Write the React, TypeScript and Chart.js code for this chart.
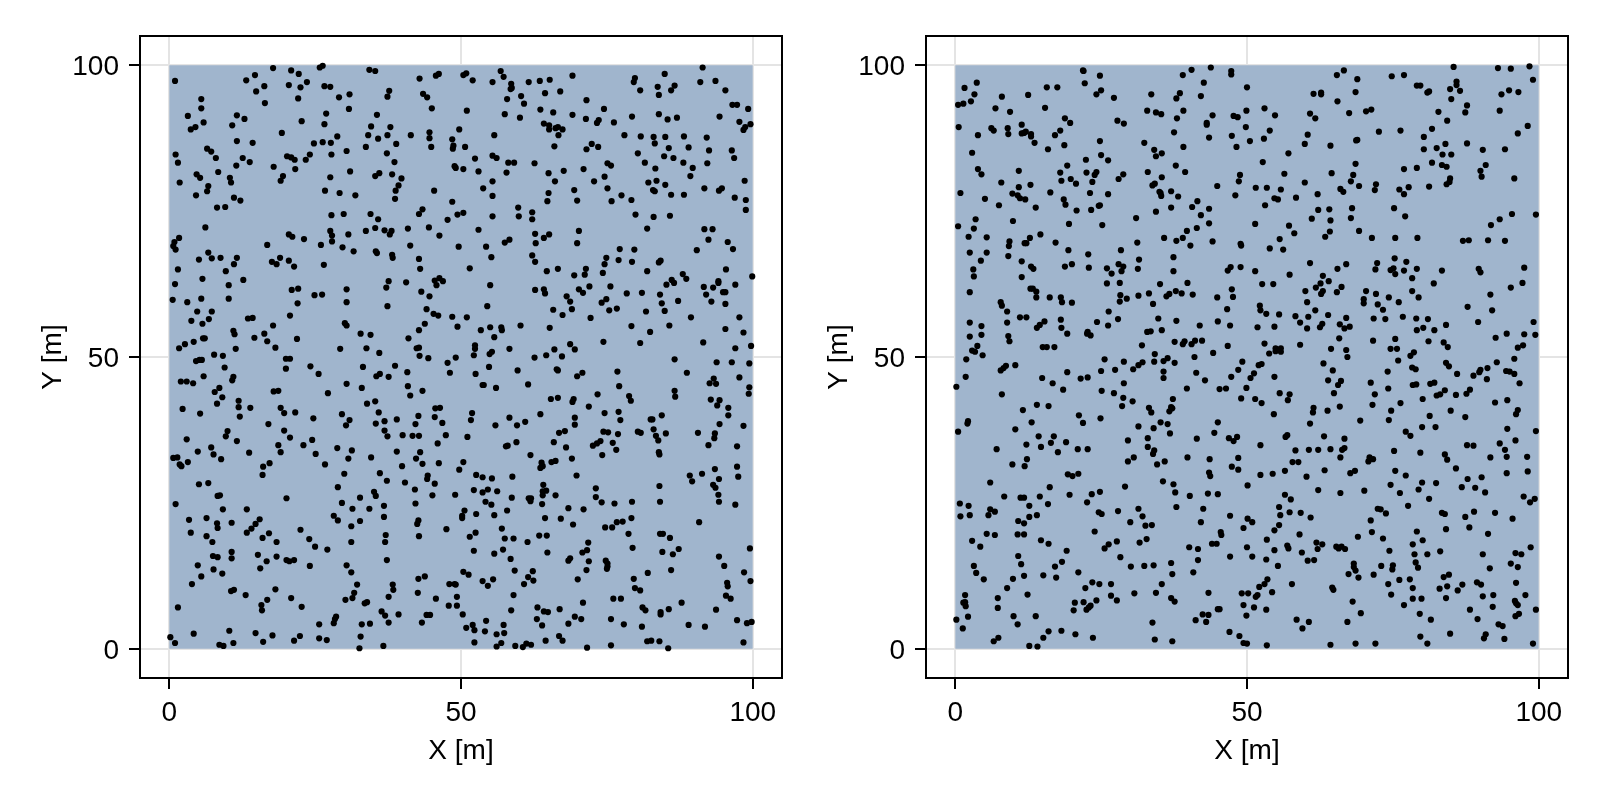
import React, { useEffect, useRef } from 'react';
import Chart from 'chart.js/auto';

const tickValues = [0, 50, 100];
// top edge of the 100 x 100 m domain, filled down to y = 0
const regionTop = [{ x: 0, y: 100 }, { x: 100, y: 100 }];

// point positions, [x, y] in metres
const leftPoints = [
  [1.0,97.3],[13.2,97.4],[14.7,98.3],[17.8,99.5],[20.9,99.1],[22.2,98.5],[25.8,99.6],[26.3,99.9],[34.3,99.2],[35.3,99.0],[42.9,97.7],[45.7,98.2],[46.2,98.5],
  [14.9,95.5],[16.3,96.4],[20.5,96.6],[22.5,96.2],[23.6,97.1],[26.6,96.4],[27.6,96.3],[37.7,95.6],[37.4,94.6],[43.5,95.1],[44.2,94.5],[29.1,94.5],[30.9,95.0],[22.1,94.3],
  [5.5,94.2],[5.5,92.6],[16.4,93.5],[30.8,92.5],[45.0,92.6],
  [3.2,91.3],[11.6,91.4],[12.9,90.8],[26.9,91.7],[35.6,91.5],[5.9,90.2],[10.8,89.7],[22.7,90.4],[26.6,89.9],[3.7,89.0],[4.5,89.4],[34.6,89.5],[37.9,89.4],
  [19.3,88.4],[44.6,88.5],[44.6,87.5],[34.1,88.0],[37.4,88.0],[41.4,88.0],[35.8,87.4],[28.8,87.8],[11.6,87.0],[14.3,86.7],[24.8,86.6],[26.3,86.8],[27.7,86.7],[38.9,86.5],[44.9,86.0],[33.7,86.0],[30.4,85.3],
  [1.1,84.7],[1.5,83.3],[6.5,85.7],[7.2,85.2],[8.0,84.1],[12.6,84.1],[13.8,83.4],[11.5,82.8],[20.2,84.4],[20.9,84.2],[21.5,83.8],[24.1,84.7],[23.4,83.8],[27.8,84.7],[37.3,84.9],[38.6,83.4],[17.9,82.6],[21.6,82.2],
  [8.4,81.7],[4.7,81.3],[5.3,80.7],[1.8,79.9],[10.4,80.7],[10.6,79.9],[19.5,81.0],[19.1,80.2],[27.6,80.8],[31.0,81.8],[35.3,81.0],[36.0,81.5],[38.2,81.3],[39.8,80.6],
  [6.7,79.3],[6.5,78.4],[4.6,77.7],[11.1,77.3],[12.2,76.8],[26.7,78.5],[29.2,78.1],[31.9,77.7],[39.3,79.4],[38.8,78.5],[38.7,77.1],[45.4,78.5],
  [8.2,75.6],[9.6,75.7],[27.8,74.3],[29.9,74.5],[34.5,74.5],[35.8,73.6],[42.8,74.5],[43.4,75.3],[47.7,73.5],
  [6.2,72.2],[1.7,70.4],[0.9,69.7],[0.7,69.0],[1.1,68.4],[20.5,71.0],[21.1,70.6],[23.1,70.2],[27.6,71.6],[27.9,70.8],[27.9,69.8],[30.7,71.0],[33.7,71.6],[35.3,72.1],[36.9,71.7],[38.1,71.6],[37.8,71.0],[40.9,72.0],[44.5,72.2],[46.3,70.8],[16.8,69.2],[26.0,69.2],[29.7,68.8],[31.6,68.1],[41.3,69.1],
  [6.7,67.9],[5.1,66.7],[7.3,66.9],[8.8,67.0],[11.6,67.0],[11.1,65.9],[17.6,66.3],[18.4,65.9],[19.0,67.0],[20.5,66.5],[21.4,65.5],[26.5,65.8],[35.4,68.1],[35.6,67.8],[38.2,67.5],[38.3,67.0],[42.8,66.8],[43.0,65.1],
  [1.5,65.0],[9.7,64.7],[5.7,63.4],[12.7,63.2],[1.0,62.5],[10.2,62.3],[37.6,63.0],[40.6,62.8],[37.2,61.9],[45.5,63.1],[46.3,63.5],[46.9,63.0],[45.8,62.3],
  [21.0,61.5],[22.1,61.7],[30.4,61.6],[24.9,60.6],[26.2,60.7],[43.2,61.2],[44.6,60.4],[0.6,59.8],[3.1,59.4],[5.5,60.0],[10.2,60.0],[30.4,59.4],[22.0,59.2],[37.4,58.7],
  [4.8,57.8],[7.3,57.8],[3.8,56.2],[6.8,56.5],[5.7,55.7],[13.5,56.6],[14.3,56.7],[20.7,57.1],[44.1,58.2],[45.3,57.4],[46.1,57.1],[17.8,55.4],[30.1,55.8],[30.4,55.4],[43.8,55.7],
  [11.0,54.5],[11.2,53.9],[16.3,54.0],[14.6,53.3],[16.8,52.7],[5.8,53.2],[6.1,53.2],[4.2,52.6],[2.7,52.2],[21.9,53.1],[32.8,54.0],[34.5,53.8],[41.0,53.2],[42.8,54.6],[1.7,51.5],[11.4,51.4],[18.2,51.6],[29.3,51.4],[33.8,51.5],[42.4,51.5],[42.8,51.6],

  [50.4,98.3],[50.9,98.6],[52.0,97.4],[55.4,97.1],[56.8,99.0],[57.3,98.0],[58.6,96.8],[61.6,97.1],[63.5,97.3],[65.2,97.5],[69.1,98.2],[58.5,95.9],[58.7,96.1],
  [57.9,94.2],[60.3,94.7],[60.8,93.4],[64.4,95.2],[67.0,95.5],[71.5,94.0],[51.0,92.2],[57.5,91.6],[60.1,91.0],[63.6,92.4],[65.8,91.9],[69.1,91.5],[71.4,90.8],[74.5,92.5],[73.6,90.6],[73.3,90.1],[76.2,90.2],[79.3,91.2],
  [79.8,97.8],[79.6,97.1],[80.7,95.7],[84.9,98.5],[83.7,96.3],[83.9,94.9],[86.6,96.5],[86.0,95.7],[91.4,99.6],[91.0,97.1],[93.6,97.3],[95.3,95.7],[96.5,93.2],[97.3,93.2],[99.2,92.5],[94.3,91.2],[97.7,90.3],[99.6,89.9],[98.7,89.4],[98.4,88.9],[83.9,91.6],[85.4,90.7],[87.0,91.0],
  [49.7,89.0],[55.7,88.0],[64.2,90.0],[65.1,89.7],[65.1,89.0],[66.2,89.2],[66.6,89.4],[67.4,89.0],[66.7,88.0],[48.5,87.3],[66.0,86.1],[78.0,88.0],[80.8,87.8],[83.0,87.7],[85.0,87.7],[88.2,87.8],[92.1,87.6],[83.2,86.6],[72.4,86.5],[73.5,86.0],[71.5,85.6],[85.6,85.8],[89.0,85.9],[92.5,85.4],[96.4,85.4],[96.8,84.1],[48.7,86.2],[48.6,85.7],[50.7,86.0],
  [55.4,84.5],[56.1,84.1],[52.4,84.0],[58.1,83.3],[59.1,83.3],[62.6,83.2],[80.3,84.9],[84.8,84.4],[86.4,84.1],[81.5,83.3],[88.1,83.3],[92.2,83.2],[75.1,83.2],[75.7,82.8],[48.9,82.7],[49.1,82.4],[50.4,82.2],[53.0,81.8],[57.8,81.6],[65.0,81.5],[67.6,81.9],[71.0,82.2],[83.3,82.3],[89.7,82.4],[89.3,81.0],[74.6,80.9],
  [55.4,80.1],[66.1,80.1],[72.8,80.1],[82.1,79.9],[83.5,80.2],[85.0,79.5],[98.6,80.2],[53.8,78.9],[55.4,77.6],[69.4,78.6],[75.1,78.9],[65.0,78.1],[82.9,78.6],[83.2,78.4],[86.0,77.8],[88.2,77.8],[91.7,78.9],[94.2,78.5],[94.7,78.9],[77.5,77.7],[96.9,77.3],[98.8,76.9],[48.5,76.6],[64.8,76.7],[69.9,76.8],[75.8,76.7],[79.2,76.9],
  [59.8,75.6],[62.2,74.8],[59.9,74.1],[62.2,73.6],[49.4,74.4],[50.4,74.7],[55.4,74.1],[79.9,74.4],[83.0,74.0],[85.8,74.2],[98.8,75.2],[53.0,71.8],[81.9,72.0],[91.7,71.9],[93.1,71.9],[70.2,71.6],[62.7,71.1],[65.1,71.0],[64.2,70.4],[58.3,70.1],[57.5,69.6],[62.8,69.5],[69.9,69.5],[92.4,70.1],[95.7,69.7],
  [49.6,68.9],[54.3,68.9],[55.2,67.1],[62.2,67.4],[62.7,66.3],[77.2,68.5],[79.7,68.4],[96.6,68.5],[90.4,68.3],[74.9,67.0],[74.6,65.9],[77.0,66.6],[79.3,66.3],[83.9,66.2],[84.2,66.5],[51.5,65.2],[64.7,64.7],[66.6,65.1],[71.4,65.1],[71.2,64.1],[69.4,64.0],[74.3,64.4],[81.9,64.7],[88.0,64.2],[88.6,63.4],[95.4,65.0],[99.9,63.8],
  [55.0,62.3],[62.7,61.5],[64.2,61.6],[64.4,60.9],[70.2,61.6],[70.9,61.0],[72.0,62.1],[75.6,62.1],[68.1,60.4],[68.7,59.5],[74.9,59.9],[74.1,59.3],[78.4,60.9],[81.0,61.0],[84.1,60.7],[85.2,62.4],[86.1,63.2],[86.5,62.7],[91.6,62.0],[93.2,61.9],[94.1,63.0],[94.1,62.7],[97.0,62.4],[92.0,60.7],[94.9,61.1],[95.3,61.1],[92.9,59.5],[95.3,59.1],[87.2,59.6],[84.4,59.2],
  [54.5,58.7],[65.8,58.1],[69.0,58.2],[67.4,57.2],[75.4,58.0],[76.7,58.3],[81.7,57.8],[84.9,57.9],[48.5,56.9],[51.0,56.8],[49.4,55.2],[72.2,56.7],[89.4,56.8],[97.7,56.8],
  [55.0,55.1],[53.4,54.6],[56.9,55.1],[57.0,54.6],[60.2,55.4],[65.2,55.0],[79.2,55.3],[85.7,55.4],[95.3,54.8],[82.4,54.3],[98.4,54.2],
  [55.7,53.4],[74.4,52.6],[80.7,52.4],[91.5,52.5],[68.7,52.2],[99.7,51.9],[52.4,52.0],[52.4,51.4],[58.3,51.4],[66.0,51.3],[69.5,51.3],[97.0,51.5],

  [4.6,49.3],[5.2,49.5],[5.6,49.5],[7.7,50.4],[9.2,50.2],[9.5,48.2],[20.0,49.7],[20.7,49.7],[20.0,48.0],[24.2,48.4],[25.6,47.1],[33.2,48.3],[36.0,50.7],[38.7,48.5],[42.9,50.2],[44.4,49.8],[47.7,49.0],[48.1,47.3],[40.8,47.4],
  [2.0,45.8],[3.0,45.8],[4.1,45.5],[5.9,46.7],[11.0,46.6],[10.8,46.0],[35.5,46.7],[36.1,47.1],[37.6,46.6],[30.4,45.4],[33.0,44.7],[40.9,45.0],[43.4,44.2],[41.3,43.4],[8.6,44.7],[7.8,44.0],[9.1,43.1],[8.2,42.0],[17.9,44.1],[18.7,44.2],[27.2,43.8],
  [11.9,42.5],[11.9,41.4],[13.9,41.3],[2.3,41.1],[5.3,40.3],[12.1,39.8],[19.1,41.3],[19.7,40.4],[21.6,40.5],[33.9,42.0],[35.3,42.4],[35.9,40.5],[29.6,40.2],[30.9,39.2],[30.3,38.3],[24.7,39.5],[36.9,39.0],[35.4,38.6],[39.0,39.3],[42.7,39.9],[42.2,38.5],[45.6,41.2],[46.4,41.3],[45.5,39.7],[46.8,38.7],[17.0,38.5],
  [19.7,37.4],[20.7,36.2],[24.5,35.8],[10.0,37.3],[9.7,36.4],[3.0,35.9],[11.6,35.6],[36.9,37.4],[37.4,36.4],[40.0,36.6],[41.7,36.5],[42.8,36.5],[47.4,36.6],[46.0,35.2],[18.7,34.9],[19.1,33.7],[23.0,34.9],[28.8,34.4],[31.3,34.0],[39.0,33.8],[43.0,33.7],[7.2,34.5],[7.6,33.3],[8.9,32.5],[4.9,33.8],[13.7,33.6],[25.1,33.4],[0.7,32.7],[1.4,32.8],[3.2,32.0],[1.8,31.6],[2.1,31.3],[30.7,32.6],[34.6,32.8],[42.3,32.6],[43.4,31.7],[46.2,31.8],
  [17.2,31.8],[16.1,31.2],[16.0,29.8],[26.7,31.6],[39.9,31.3],[30.0,30.0],[36.1,30.1],[37.3,28.8],[40.4,28.5],[44.3,29.7],[44.2,29.1],[45.5,28.3],
  [5.1,28.2],[6.7,28.4],[28.9,27.7],[42.1,27.3],[35.1,26.9],[35.4,26.2],[45.1,26.3],[8.3,26.2],[8.7,26.3],[20.1,25.8],[32.7,25.9],[1.1,24.8],[29.6,25.0],[36.8,24.5],[42.2,24.9],
  [9.2,23.9],[13.3,23.9],[31.4,24.0],[34.3,24.0],[28.2,22.8],[28.9,22.0],[36.8,22.6],[42.7,22.0],[3.4,22.1],[6.4,22.4],[8.2,21.5],[8.3,20.7],[10.7,21.6],[15.5,22.2],[14.8,21.4],[14.1,20.6],[13.3,19.9],[32.7,21.9],[31.2,21.0],[42.5,21.4],[47.5,20.5],[22.5,20.4],[17.1,19.8],[16.0,19.0],[3.7,19.9],[6.4,19.3],[7.4,18.3],[18.4,18.3],[24.0,18.8],[37.1,19.5],[42.8,19.3],[37.0,18.3],[31.2,18.3],[25.0,17.5],[27.1,17.0],
  [10.7,16.6],[7.5,15.9],[8.3,15.7],[10.7,15.5],[15.2,16.1],[18.4,15.8],[20.1,15.2],[20.6,15.0],[21.4,15.2],[16.7,15.0],[37.3,15.2],[4.9,14.3],[7.6,13.6],[15.6,13.8],[24.1,14.2],[30.4,14.3],[31.2,13.1],[9.1,12.9],[5.5,12.4],[3.9,11.1],[42.7,12.0],[43.8,12.4],[32.2,11.0],[38.3,11.0],[48.0,11.1],[38.4,10.1],[18.2,10.2],[10.6,9.9],[11.1,10.1],[13.1,9.2],[31.7,9.6],[42.6,9.6],[37.6,8.9],[31.4,8.7],[30.2,8.4],[16.8,8.4],[20.9,8.7],[45.7,8.6],[33.5,7.8],[33.9,8.0],[47.9,7.4],[1.5,7.1],[15.8,7.5],[15.9,6.6],[22.7,7.2],[36.4,6.4],[37.0,5.7],[39.3,5.9],[28.6,5.5],[28.2,4.4],[28.4,5.1],[37.6,4.5],[44.1,5.8],[44.7,5.8],[43.3,4.5],[25.7,4.2],[33.0,4.2],[34.4,4.3],
  [10.3,3.1],[4.2,2.6],[14.8,2.7],[17.7,2.3],[0.2,2.0],[1.0,1.0],[8.6,0.7],[9.3,0.5],[11.0,1.0],[16.1,1.2],[22.4,2.2],[21.4,1.4],[25.7,1.8],[27.0,1.5],[32.8,2.1],[32.6,0.1],[36.7,0.5],

  [52.2,50.3],[54.9,50.5],[55.3,50.9],[49.1,49.9],[62.6,49.9],[64.6,50.3],[67.3,50.1],[86.6,49.6],[93.8,49.1],[96.4,49.1],[99.4,48.9],[54.8,48.3],[52.5,47.1],[59.7,47.7],[66.4,47.9],[66.6,47.7],[70.8,47.3],[69.9,46.7],[76.8,47.5],[88.7,47.3],[93.3,46.3],[92.6,45.5],[93.7,45.4],[97.7,46.5],[99.4,44.8],[99.3,43.7],[53.7,45.2],[53.9,45.2],[56.0,44.7],[61.5,45.3],[77.1,45.0],[86.6,44.2],[86.7,43.2],[73.4,43.6],[78.8,43.3],[79.1,42.5],[65.4,42.8],[66.6,43.0],[69.3,42.8],[69.1,42.3],[71.9,41.5],[92.8,42.7],[94.3,42.6],[93.9,41.7],[95.8,41.3],
  [51.9,40.4],[51.7,39.2],[63.6,40.2],[58.3,39.6],[61.0,38.9],[59.6,38.3],[55.9,38.3],[69.5,39.6],[69.5,38.4],[74.6,40.4],[77.0,40.6],[77.3,39.2],[84.4,40.0],[82.5,39.3],[82.8,39.3],[95.8,40.0],[94.3,38.5],[98.4,38.2],[51.1,36.3],[66.8,37.0],[67.8,37.3],[74.4,37.2],[75.2,37.1],[76.9,36.8],[80.3,37.2],[80.8,37.0],[83.0,37.6],[85.1,36.9],[83.4,36.5],[83.8,35.7],[90.6,37.0],[93.5,36.9],[93.4,36.1],[65.9,35.4],[59.5,35.4],[57.7,34.7],[58.0,34.8],[68.0,34.5],[73.9,35.6],[73.3,35.2],[72.6,34.8],[76.0,35.3],[76.6,34.1],[92.4,34.9],[97.3,34.7],[83.9,33.7],[84.0,33.3],[61.9,33.2],[74.2,33.2],[69.0,32.6],[50.4,32.0],[49.7,30.7],[63.8,31.9],[64.0,31.3],[63.6,31.0],[65.5,32.0],[66.2,32.2],[69.8,29.7],[91.3,30.0],[93.5,30.8],[97.3,31.2],[97.5,29.5],[89.2,29.7],[89.6,28.7],[94.2,29.1],
  [52.6,29.8],[53.7,29.4],[55.3,29.2],[58.8,29.5],[84.0,27.9],[93.2,28.1],[93.6,27.6],[64.1,28.1],[73.1,27.5],[52.2,27.2],[54.6,27.3],[53.7,26.8],[56.2,27.0],[49.0,26.4],[64.0,27.0],[64.6,27.1],[64.0,26.3],[66.2,26.3],[58.7,25.9],[61.6,25.8],[62.0,25.8],[61.9,25.3],[73.1,26.0],[94.1,26.4],[54.2,25.2],[55.2,24.7],[63.9,24.8],[74.1,25.1],[76.3,24.9],[79.3,25.2],[84.1,25.2],[94.2,25.2],[97.0,24.7],[50.6,23.7],[52.6,23.1],[50.2,22.8],[50.2,22.4],[55.7,22.9],[57.9,23.7],[68.4,24.1],[71.0,23.9],[64.4,22.4],[67.1,22.3],[69.2,21.3],[79.2,22.4],[76.7,21.7],[77.7,21.8],[74.7,20.8],[75.9,20.8],[90.8,21.7],[57.0,20.6],[52.5,19.9],[51.5,19.2],[57.5,18.9],[59.0,18.9],[61.4,18.3],[63.4,19.4],[64.7,19.4],[71.8,18.2],[78.7,19.7],[84.1,19.7],[84.6,19.7],[85.8,19.0],[52.2,16.8],[55.7,16.3],[57.2,17.0],[64.8,16.5],[70.8,16.5],[71.6,16.9],[79.4,17.3],[84.5,16.6],[86.3,16.2],[87.3,17.1],[99.5,17.2],[94.2,15.8],[95.1,14.2],[58.5,15.4],[68.7,15.5],[68.4,15.1],[71.9,15.0],[74.8,15.1],[75.1,14.6],[75.1,14.1],[75.0,13.7],[71.5,13.5],[82.0,13.0],[86.0,13.5],[98.5,13.1],[50.4,13.2],[51.3,12.7],[59.2,13.4],[62.3,13.3],[61.5,12.3],[62.4,11.7],[60.8,11.1],[53.7,11.6],[55.5,11.9],[54.6,10.8],[48.9,11.1],[49.1,11.0],[70.0,11.9],[79.6,12.0],[99.6,11.6],[95.6,11.3],[95.7,10.7],[79.8,10.4],[80.7,10.0],[59.0,9.2],[49.3,8.9],[49.3,7.4],[95.4,9.1],[96.2,8.6],[70.9,7.9],[76.1,8.6],[77.4,8.6],[87.8,7.9],[58.6,6.6],[63.1,7.1],[64.2,6.4],[64.9,6.3],[66.9,6.8],[81.1,7.1],[81.6,6.6],[84.2,6.3],[84.2,5.9],[85.6,6.8],[93.7,6.7],[50.3,5.9],[54.3,4.8],[63.0,5.1],[69.5,5.5],[70.6,5.1],[75.7,5.1],[97.3,4.9],[99.0,4.4],[99.8,4.6],[68.4,4.3],[77.9,4.2],[81.0,3.8],[89.0,4.1],[91.8,3.8],[52.0,4.1],[52.3,3.2],[50.9,3.6],[54.1,3.0],[57.3,4.1],[57.4,2.7],[56.1,2.5],[63.9,4.0],[52.3,1.1],[56.9,1.0],[56.1,0.4],[59.3,0.5],[60.6,0.3],[61.2,0.9],[62.0,0.7],[64.5,1.4],[66.8,2.2],[67.4,1.4],[71.6,0.2],[75.7,0.6],[81.9,1.3],[82.6,1.4],[84.0,1.3],[85.5,0.1],[98.4,1.1]
];

const rightPoints = [
  [21.9,99.1],[22.0,99.0],[24.8,98.2],[22.2,96.9],[40.5,99.2],[43.8,99.6],[39.0,98.3],[42.6,97.0],[3.7,97.0],[1.6,96.1],[15.7,96.2],[17.5,96.2],[3.3,95.0],[2.7,93.8],[1.4,93.4],[0.5,93.2],[8.0,94.6],[12.5,94.9],[25.0,95.7],[24.2,95.0],[27.2,94.4],[33.6,95.0],[38.5,95.2],[37.9,94.3],[42.1,94.7],
  [6.9,92.6],[9.4,92.0],[15.4,92.7],[32.9,92.2],[34.4,91.9],[35.3,91.6],[39.1,92.2],[38.0,90.9],[44.1,91.4],[18.8,90.9],[19.7,90.1],[27.8,90.5],[28.9,90.0],[0.6,89.4],[6.2,89.2],[6.6,88.8],[9.0,89.2],[11.4,89.8],[11.8,88.4],[43.1,90.1],[43.1,89.8],
  [3.9,88.0],[9.1,88.2],[11.4,88.3],[12.1,88.6],[13.0,88.2],[13.0,87.8],[17.1,88.0],[18.0,88.8],[37.5,88.5],[43.5,87.6],[13.6,86.7],[18.7,86.3],[24.8,87.0],[32.4,86.7],[39.1,86.0],[15.9,85.6],[2.9,85.0],[34.1,85.5],[35.4,84.9],[34.4,84.4],[25.0,84.6],[26.2,83.7],[22.4,83.8],[19.2,82.8],[37.8,82.8],
  [3.9,82.2],[4.5,81.3],[10.9,81.9],[18.0,81.6],[22.5,81.6],[23.9,81.2],[24.2,81.7],[28.8,81.3],[28.0,80.5],[33.0,81.7],[39.4,81.7],[35.4,80.8],[18.2,80.2],[19.8,80.5],[20.7,79.7],[23.5,80.0],[7.9,79.9],[12.9,79.5],[10.9,79.1],[33.8,79.4],[34.2,79.7],[35.0,78.3],[0.9,78.1],[9.8,78.0],[10.7,77.7],[11.1,77.2],[12.0,77.0],[16.3,78.2],[23.1,78.1],[26.2,77.9],[35.2,78.1],[35.3,77.6],[37.0,78.4],[38.2,77.5],[44.9,79.3],
  [5.1,77.1],[18.6,77.0],[18.9,76.1],[7.5,76.0],[13.8,75.6],[20.8,75.1],[23.3,75.2],[24.6,75.9],[24.8,76.0],[41.5,76.7],[40.6,75.7],[43.5,75.4],[37.0,75.6],[34.4,74.9],[42.1,74.3],
  [3.5,73.6],[9.9,73.3],[31.0,73.8],[0.5,72.4],[3.2,72.0],[19.5,72.8],[25.2,72.6],[43.5,72.9],[41.4,72.1],[39.7,71.6],[2.3,70.6],[5.4,70.5],[14.6,71.0],[12.8,70.4],[9.3,69.8],[9.2,69.0],[11.9,69.5],[12.2,69.5],[17.2,69.6],[35.8,70.4],[37.9,69.9],[39.0,70.4],[40.3,69.1],[44.1,69.8],[31.2,69.6],[28.4,68.3],[2.5,67.9],[5.4,67.9],[9.1,67.3],[19.4,68.3],[22.8,67.6],[37.4,67.1],[4.4,66.5],[11.4,66.4],[31.5,66.7],[13.0,65.5],[20.0,65.9],[28.0,65.9],[26.0,65.2],
  [18.8,65.5],[28.8,65.5],[31.3,65.1],[3.1,65.0],[13.4,65.1],[22.9,65.3],[26.8,64.3],[28.5,64.7],[37.4,64.7],[3.2,63.8],[11.4,63.7],[26.0,62.6],[28.2,62.7],[35.1,62.5],[39.8,62.7],[2.5,61.1],[12.9,61.7],[13.3,61.7],[13.9,61.2],[13.9,60.2],[16.2,60.2],[28.3,60.6],[33.2,60.9],[36.2,60.4],[8.0,58.8],[18.1,60.2],[18.3,59.4],[20.0,59.3],[28.2,59.5],[29.4,60.0],[31.4,60.5],[37.8,61.3],[36.7,60.8],[38.8,60.9],[40.7,60.7],[44.9,60.2],[33.9,59.1],[7.8,59.4],[8.9,57.8],[26.3,57.8],[11.1,56.8],[12.2,56.8],[8.9,55.9],[18.1,56.4],[14.5,55.5],[15.3,56.1],[27.9,56.5],[34.8,56.6],[37.9,56.2],[2.5,55.9],[4.5,55.3],[14.0,55.0],[18.2,55.0],[24.3,56.0],[26.2,55.4],[41.9,55.4],[45.0,56.1],[35.4,54.6],[33.5,54.4],[32.9,54.3],[2.5,53.5],[4.5,53.8],[9.1,53.6],[19.2,54.0],[22.7,54.3],[22.6,54.0],[23.2,53.7],[9.3,52.7],[17.0,51.7],[37.6,52.6],[39.0,52.2],[41.1,52.8],[3.8,51.9],[2.9,51.1],[15.0,51.7],[15.7,51.7],[32.0,52.0],[39.3,52.7],[40.5,52.2],[42.3,52.8],

  [47.3,99.0],[47.3,98.4],[50.0,96.2],[65.4,98.3],[66.6,99.1],[68.9,97.6],[74.8,98.1],[76.9,98.3],[85.4,99.7],[93.0,99.5],[95.2,99.4],[98.4,99.8],[99.0,97.5],[85.9,97.2],[85.9,96.6],[79.1,96.5],[79.7,96.5],[80.9,95.3],[81.2,95.5],[84.8,95.9],[86.5,95.6],[85.0,94.2],[94.9,95.7],[93.6,95.0],[96.5,95.4],[61.4,95.1],[62.7,95.0],[62.7,95.3],[68.6,95.4],[65.5,93.8],[87.7,93.1],
  [47.7,91.3],[48.4,91.1],[49.9,92.2],[53.0,92.6],[54.8,91.4],[60.8,91.7],[61.7,90.9],[67.5,91.8],[70.4,92.1],[71.3,92.4],[82.8,92.0],[87.4,91.9],[93.3,92.2],[84.3,90.5],[49.8,89.4],[53.9,88.8],[47.4,87.9],[50.5,87.0],[52.9,87.4],[48.2,86.0],[60.4,88.1],[59.9,86.5],[64.3,86.2],[68.7,87.1],[68.9,87.2],[72.6,88.6],[76.3,88.8],[81.7,89.1],[80.3,87.7],[96.4,88.3],[98.1,89.6],[84.0,86.5],[87.7,86.6],[80.3,85.6],[82.5,85.8],[90.4,85.5],[94.2,85.6],[85.0,84.7],[83.5,84.7],[57.1,84.9],
  [52.7,83.4],[68.6,83.1],[81.7,83.3],[83.4,82.9],[84.2,82.6],[90.9,82.9],[76.9,82.2],[79.1,82.4],[90.0,81.9],[90.2,80.9],[56.4,81.4],[64.5,81.5],[48.8,81.2],[48.6,80.1],[68.2,81.2],[67.8,80.1],[59.9,79.9],[69.2,79.3],[95.8,80.6],
  [51.5,79.0],[53.4,79.0],[55.8,78.7],[48.0,77.7],[62.1,77.9],[66.0,78.8],[66.5,78.3],[72.1,79.6],[71.9,78.6],[76.1,78.7],[76.9,77.9],[77.7,79.1],[81.2,79.2],[84.2,79.6],[84.8,80.6],[84.7,80.0],[54.7,77.2],[55.3,77.0],[58.4,77.3],[53.1,76.0],[68.0,75.5],[75.2,75.5],[64.1,75.3],[62.2,75.2],[61.1,73.7],[64.3,73.4],[67.8,73.8],[77.1,74.1],[95.4,74.5],[93.3,73.6],[91.8,72.6],[99.5,74.4],[51.4,72.8],[57.2,72.5],[58.1,71.2],[64.2,71.5],[69.2,71.6],[63.4,70.6],[71.4,70.4],[55.6,70.2],[75.4,70.4],[79.2,70.4],[88.0,70.0],[91.3,70.0],[87.0,69.9],[94.2,69.9],[48.9,69.4],[49.0,69.1],
  [53.9,68.6],[56.2,68.4],[75.3,66.9],[77.3,66.3],[60.8,66.1],[67.0,65.9],[72.3,66.1],[72.0,65.0],[65.5,65.1],[89.7,65.1],[90.0,64.5],[97.5,65.3],[48.9,65.4],[51.4,64.7],[46.7,64.8],[47.2,65.4],[57.3,64.1],[74.6,64.9],[75.1,65.2],[75.4,64.2],[76.9,64.8],[79.1,65.1],[83.4,64.8],[78.3,63.5],[63.0,63.9],[64.0,63.0],[62.6,62.6],[52.6,62.5],[54.5,62.5],[82.0,62.6],[97.2,62.7],[66.2,62.0],[95.2,61.9],
  [47.4,61.6],[47.6,60.3],[60.0,61.3],[61.8,61.9],[63.0,61.3],[62.7,60.8],[65.4,61.1],[70.4,61.3],[72.1,60.8],[78.3,61.3],[79.4,60.2],[74.3,60.2],[91.7,60.7],[52.2,58.8],[60.3,59.4],[70.0,59.9],[70.0,59.2],[72.4,59.0],[76.0,59.4],[52.3,58.0],[46.6,58.2],[61.7,58.0],[73.3,58.1],[87.8,58.6],[92.0,58.0],[53.3,57.4],[55.5,57.3],[58.3,57.0],[60.5,56.9],[63.9,57.2],[67.0,56.7],[71.7,56.6],[76.7,56.9],[79.0,56.6],[73.7,56.5],[81.0,56.5],[89.6,56.0],[99.1,56.0],[51.8,55.1],[47.1,55.4],[59.1,55.9],[54.7,55.2],[60.3,54.9],[66.7,54.9],[62.9,55.7],[62.5,55.1],[65.9,55.6],[67.6,55.2],[84.1,55.5],[82.1,54.6],[79.1,54.6],[80.2,55.0],[94.5,54.0],[97.5,53.9],[99.4,53.8],
  [65.8,53.2],[92.6,53.3],[71.6,52.8],[75.4,53.1],[81.1,52.7],[83.7,52.5],[53.0,52.3],[46.7,51.9],[59.1,52.1],[84.4,51.7],[97.3,52.0],[96.4,51.6],[54.9,51.5],[55.8,51.5],[64.4,51.4],[67.0,51.2],[74.6,51.4],[75.7,51.4],

  [1.9,49.6],[3.4,50.9],[4.7,50.3],[25.6,49.6],[28.9,49.2],[34.1,49.2],[34.2,50.5],[35.7,49.3],[36.4,49.8],[37.6,49.0],[41.0,50.0],[44.2,50.7],[7.8,47.7],[8.3,48.1],[8.7,48.5],[10.3,48.6],[30.5,47.9],[31.4,48.6],[32.1,49.1],[25.0,47.6],[27.4,47.8],[19.2,47.4],[35.7,47.5],[41.3,47.3],[1.8,46.6],[14.9,46.4],[21.5,46.3],[22.7,46.5],[35.7,46.4],[42.8,46.0],[0.2,44.9],[16.7,45.5],[28.9,45.5],[39.7,44.6],[18.5,44.4],[25.1,44.2],[45.3,44.5],[8.0,43.6],[27.2,43.8],[28.8,43.0],[28.6,41.6],[30.4,42.4],[37.3,42.8],[14.0,41.8],[16.0,41.6],[11.6,40.9],[33.2,41.3],[33.6,40.5],[37.0,41.4],[37.2,41.2],[36.7,40.7],[21.2,40.0],[13.1,38.8],[21.9,38.7],[24.9,39.5],[35.2,38.8],[36.4,38.5],[45.0,38.8],[2.2,39.0],[2.1,38.6],[0.5,37.2],[10.3,37.6],[31.4,38.1],[34.0,37.8],[36.8,36.9],[44.4,37.0],[14.3,36.4],[16.9,36.4],[12.2,35.0],[14.7,34.6],[16.4,35.3],[19.0,35.4],[29.6,35.7],[33.0,36.1],[41.4,36.0],[7.1,34.2],[17.6,33.7],[21.0,34.2],[22.7,34.2],[33.0,34.6],[34.1,34.0],[33.9,33.4],[12.3,32.5],[9.8,31.6],[11.9,31.3],[29.6,32.1],[30.6,32.8],[35.9,32.1],[34.6,31.6],[39.8,32.8],[43.6,32.5],[19.3,29.9],[20.1,29.6],[21.1,30.0],[43.5,30.2],[43.7,29.6],[6.0,28.5],[35.6,28.7],[37.4,28.2],[16.2,27.7],[29.1,27.8],[8.4,26.1],[11.2,25.9],[11.8,25.9],[14.5,26.1],[19.6,26.4],[23.4,26.5],[24.8,26.9],[37.7,26.8],[40.2,26.2],[43.3,26.6],[45.0,26.5],[0.8,24.9],[2.3,24.5],[12.7,24.5],[15.9,24.8],[22.6,25.1],[6.0,23.9],[37.9,24.3],[0.9,22.7],[2.5,22.9],[5.7,22.9],[6.8,23.5],[12.7,22.6],[14.0,22.9],[24.6,23.4],[25.1,23.1],[27.9,23.6],[31.4,24.0],[32.1,22.7],[42.5,24.0],[10.8,21.9],[11.8,21.5],[30.0,21.7],[32.6,21.1],[33.7,21.2],[42.1,21.7],[5.4,19.7],[6.8,19.5],[10.7,19.6],[11.8,19.6],[23.9,20.1],[45.5,20.0],[45.6,19.5],[2.9,18.5],[4.3,17.5],[14.7,18.6],[16.0,18.0],[26.3,17.9],[27.7,18.4],[25.6,17.2],[31.6,18.2],[32.8,18.8],[44.0,18.0],[44.8,18.0],[40.1,17.4],[41.6,17.1],[19.1,16.8],[10.8,15.9],[11.3,14.5],[28.3,15.7],[41.6,15.2],[3.2,14.2],[18.3,14.9],[17.1,14.1],[30.1,14.1],[32.4,14.2],[34.0,14.3],[37.0,14.7],[3.6,13.0],[11.8,12.5],[15.1,12.6],[17.3,12.2],[21.1,13.1],[37.2,12.8],[40.8,13.1],[4.9,11.9],[9.9,12.0],[23.5,11.4],[24.7,11.1],[26.7,11.1],[35.4,11.1],[8.9,10.4],[22.3,10.4],[1.7,9.2],[12.4,9.3],[7.3,8.7],[26.7,9.1],[30.7,9.5],[34.4,9.6],[43.4,9.6],[1.4,7.9],[1.7,8.0],[1.8,7.3],[20.5,7.9],[22.0,8.0],[24.2,8.3],[27.7,8.3],[37.0,8.7],[37.6,8.1],[7.3,7.0],[23.2,7.4],[22.9,7.1],[22.5,6.7],[20.3,6.6],[45.0,6.8],[45.3,6.8],[2.2,5.5],[0.2,5.0],[10.0,5.6],[13.8,5.6],[42.4,5.9],[43.4,5.8],[41.2,4.9],[43.0,4.6],[10.7,4.2],[33.8,4.5],[1.3,3.5],[16.0,3.0],[18.2,3.1],[20.6,2.5],[7.4,1.9],[6.6,1.3],[15.1,1.9],[23.6,1.9],[34.2,1.6],[37.2,1.3],[12.7,0.5],[14.1,0.4],

  [53.8,50.6],[54.9,51.0],[55.8,50.9],[49.2,49.2],[48.5,47.8],[52.0,48.6],[52.5,48.8],[51.2,47.2],[50.6,46.4],[47.3,46.6],[54.7,46.6],[63.1,48.9],[67.2,50.0],[64.7,47.7],[63.9,46.0],[66.1,45.9],[65.6,45.2],[74.1,47.5],[75.9,49.4],[78.0,50.2],[78.6,50.8],[78.3,48.2],[78.9,47.9],[84.1,49.0],[84.6,48.4],[86.0,47.1],[92.8,49.1],[95.8,49.7],[91.2,48.1],[90.0,47.8],[89.8,47.4],[88.8,46.8],[91.1,46.2],[94.4,47.6],[95.0,47.5],[95.8,47.1],[96.7,45.5],[71.2,45.6],[74.2,44.6],[78.4,45.2],[79.0,45.3],[81.4,45.4],[82.1,45.6],[49.9,44.7],[46.4,44.6],[64.9,43.8],[55.6,43.8],[57.3,43.6],[57.0,42.6],[71.9,43.6],[83.9,44.3],[88.2,44.4],[87.6,43.7],[85.8,43.5],[83.1,43.6],[82.5,43.4],[49.0,42.9],[51.4,42.8],[52.5,42.1],[76.3,42.1],[80.1,42.8],[71.5,41.8],[92.5,42.2],[94.6,42.6],[54.6,40.2],[61.4,41.3],[61.3,40.5],[63.8,40.8],[65.9,41.5],[74.7,40.8],[84.9,40.8],[96.4,40.9],[96.1,40.2],[81.3,39.9],[87.4,39.7],[69.4,39.1],[74.3,39.2],[60.8,38.6],[80.0,38.0],[82.3,38.0],[94.6,37.7],[77.2,37.2],[78.0,36.5],[99.5,37.3],[46.9,36.1],[47.7,35.6],[48.3,36.3],[56.6,36.3],[56.9,36.6],[63.2,36.4],[66.7,36.0],[96.0,35.7],[52.3,34.9],[93.3,35.2],[87.7,34.9],[88.8,34.8],[58.3,34.0],[60.6,34.1],[62.2,34.1],[64.3,34.2],[66.3,34.1],[66.7,34.4],[75.2,33.9],[79.7,33.6],[94.2,34.1],[83.9,33.3],[84.3,32.4],[48.5,32.7],[66.0,32.8],[71.0,32.8],[71.6,32.5],[70.8,32.1],[91.7,32.8],[94.5,32.9],[98.0,32.9],[47.4,31.2],[48.5,30.7],[57.8,32.0],[58.8,32.0],[56.5,30.5],[52.3,29.8],[54.4,30.0],[63.3,30.6],[67.7,30.1],[68.5,30.5],[75.4,30.5],[77.2,29.7],[85.8,30.9],[94.5,30.1],[98.1,30.4],[60.2,29.5],[87.8,29.1],[90.2,29.4],[50.1,28.0],[80.0,28.5],[82.4,28.4],[74.6,28.1],[79.4,27.3],[86.8,27.7],[89.1,27.6],[90.8,26.8],[62.2,27.2],[66.0,26.7],[70.1,27.1],[76.2,26.7],[56.5,26.4],[57.5,25.6],[81.2,25.7],[97.4,26.1],[98.5,25.1],[99.3,25.7],[55.5,24.3],[55.7,22.9],[57.3,23.4],[59.2,23.3],[60.9,22.5],[72.4,24.0],[72.9,23.9],[73.8,23.2],[77.6,24.5],[83.4,23.3],[83.9,23.1],[88.9,23.5],[92.5,23.3],[87.4,22.6],[95.5,22.3],[47.1,22.8],[50.1,22.3],[50.9,21.7],[55.5,21.2],[71.2,22.0],[49.4,20.7],[54.7,20.3],[59.0,19.6],[88.1,20.8],[84.1,20.5],[79.1,20.1],[71.4,20.0],[69.0,19.2],[73.3,18.9],[80.1,18.6],[91.3,19.7],[53.4,18.7],[61.9,18.2],[62.9,17.9],[78.4,17.9],[50.0,17.4],[56.9,17.7],[57.1,17.2],[54.7,16.9],[62.1,17.1],[65.3,17.5],[65.7,17.2],[66.2,17.5],[66.8,17.1],[59.4,16.5],[74.4,16.8],[78.7,16.2],[80.9,16.2],[83.1,16.7],[90.4,16.2],[98.6,17.4],[96.0,16.4],[97.0,16.2],[47.1,15.8],[50.9,15.8],[53.3,15.3],[60.4,15.1],[61.5,15.2],[78.9,14.8],[95.2,14.6],[55.3,14.2],[68.3,14.6],[68.3,14.0],[68.6,13.4],[73.0,14.2],[75.0,14.3],[74.9,13.6],[79.3,13.9],[91.6,13.8],[96.4,14.0],[67.4,12.8],[69.1,12.2],[71.7,12.7],[83.7,12.3],[84.6,12.7],[53.5,11.9],[76.1,11.8],[77.9,11.9],[74.2,11.1],[53.0,11.1],[57.7,11.1],[52.1,10.6],[78.4,10.4],[83.0,10.3],[84.3,10.7],[86.9,11.0],[86.1,10.0],[89.4,11.4],[90.1,11.0],[96.1,11.3],[64.6,10.5],[64.8,10.1],[54.3,9.7],[49.1,9.5],[50.2,9.5],[51.5,8.9],[51.8,9.2],[74.7,9.3],[78.4,8.6],[79.9,8.6],[84.1,8.7],[90.4,9.0],[92.2,9.2],[97.7,9.2],[68.1,8.1],[49.4,7.5],[51.2,7.1],[53.3,6.7],[76.9,7.5],[95.9,8.2],[96.1,7.8],[96.4,7.5],[92.1,7.2],[88.2,6.7],[69.5,6.1],[49.9,5.7],[79.6,6.0],[96.0,5.6],[96.6,6.0],[58.5,5.0],[60.6,4.6],[67.2,4.6],[81.5,5.0],[89.5,5.1],[93.1,4.2],[93.8,3.9],[59.5,3.5],[47.0,2.9],[48.7,2.2],[84.8,2.6],[79.7,2.1],[90.9,2.5],[90.6,1.8],[94.1,1.7],[49.4,1.0],[50.0,0.9],[53.4,0.6],[64.3,0.7],[68.6,0.9],[72.0,0.9],[80.9,0.9],[99.0,0.9],[99.5,6.7]
];

const Panel: React.FC<{ points: number[][]; left: number }> = ({ points, left }) => {
  const ref = useRef<HTMLCanvasElement>(null);

  useEffect(() => {
    if (!ref.current) return;
    const axis = (label: string, isX: boolean) => ({
      type: 'linear' as const,
      min: -5,
      max: 105,
      afterBuildTicks: (a: any) => {
        a.ticks = tickValues.map(value => ({ value }));
      },
      afterFit: (a: any) => {
        if (isX) a.height = 122;
        else a.width = 140;
      },
      border: { color: '#000', width: 2 },
      grid: { color: '#e4e4e4', lineWidth: 2, tickColor: '#000', tickWidth: 2, tickLength: 11 },
      ticks: {
        color: '#000',
        font: { family: 'Liberation Sans', size: 28 },
        padding: isX ? 7 : 10,
        labelOffset: isX ? 0 : 2,
        maxRotation: 0
      },
      title: {
        display: true,
        text: label,
        color: '#000',
        font: { family: 'Liberation Sans', size: 28 },
        padding: isX ? { top: 0, bottom: 32 } : { top: 36, bottom: 0 }
      }
    });

    const chart = new Chart(ref.current, {
      type: 'scatter',
      data: {
        datasets: [
          {
            data: points.map(([x, y]) => ({ x, y })),
            backgroundColor: '#000',
            borderWidth: 0,
            pointRadius: 3.1,
            order: 1
          },
          {
            type: 'line',
            data: regionTop,
            borderWidth: 0,
            pointRadius: 0,
            backgroundColor: '#a0b5cd',
            fill: { value: 0 },
            order: 2
          }
        ]
      } as any,
      options: {
        animation: false,
        responsive: false,
        devicePixelRatio: 1,
        layout: { padding: { top: 36, right: 18, left: 0, bottom: 0 } },
        plugins: { legend: { display: false }, tooltip: { enabled: false } },
        scales: { x: axis('X [m]', true), y: axis('Y [m]', false) }
      },
      plugins: [
        {
          // spines on all four sides
          id: 'frame',
          afterDraw: (c: any) => {
            const { left: l, top, width, height } = c.chartArea;
            c.ctx.save();
            c.ctx.strokeStyle = '#000';
            c.ctx.lineWidth = 2;
            c.ctx.strokeRect(l, top, width, height);
            c.ctx.restore();
          }
        }
      ]
    });

    return () => chart.destroy();
  }, []);

  return <canvas ref={ref} width={800} height={800} style={{ position: 'absolute', left, top: 0 }} />;
};

export default function App() {
  return (
    <div style={{ position: 'absolute', left: 0, top: 0, width: 1600, height: 800, background: '#fff' }}>
      <Panel points={leftPoints} left={0} />
      <Panel points={rightPoints} left={786} />
    </div>
  );
}
